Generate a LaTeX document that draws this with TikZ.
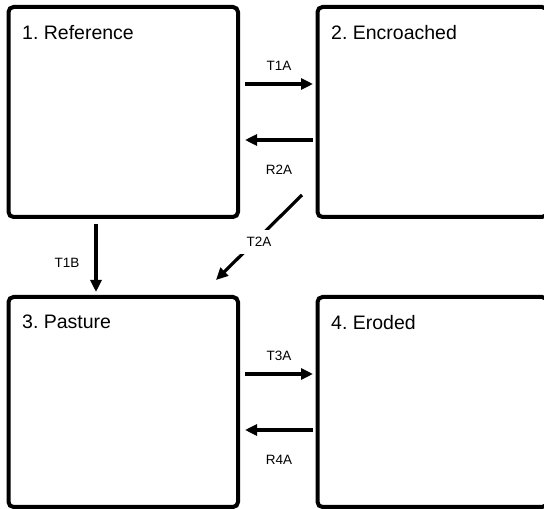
\documentclass[tikz,border=0pt]{standalone}
\usepackage{fontspec}
\setmainfont{Liberation Sans}
\usetikzlibrary{arrows.meta, positioning, calc}

\begin{document}
\begin{tikzpicture}[x=1pt, y=1pt,
    statebox/.style={draw, line width=4pt, rounded corners=5pt, outer sep=0pt,
      minimum width=229.5pt, minimum height=210pt},
    statetitle/.style={anchor=north west, inner sep=0pt, font=\fontsize{19.5}{23}\selectfont},
    trans/.style={line width=3.2pt, -{Triangle[length=12pt, width=11pt]}},
    translabel/.style={font=\fontsize{13.5}{15}\selectfont, inner sep=1pt}]
    \useasboundingbox (0,0) rectangle (544,509);
    % state boxes
    \foreach \name/\x/\y/\title in {ref/123.25/397/1.\ Reference, enc/432.25/397/2.\ Encroached,
      pas/123.25/107/3.\ Pasture, ero/432.25/107/4.\ Eroded} {
      \node[statebox] (\name) at (\x,\y) {};
      \node[statetitle] (\name-title) at ([xshift=13.5pt, yshift=-18pt]\name.north west) {\title};
    }
    % transitions
    \draw[trans] ([xshift=7pt, yshift=28pt]ref.east) -- node[midway, translabel, yshift=18pt] {T1A}
      ([xshift=-4.5pt, yshift=28pt]enc.west);
    \draw[trans] ([xshift=-4.5pt, yshift=-28pt]enc.west) -- node[midway, translabel, yshift=-30pt] {R2A}
      ([xshift=7pt, yshift=-28pt]ref.east);
    \draw[trans] ([xshift=7pt, yshift=28pt]pas.east) -- node[midway, translabel, yshift=18pt] {T3A}
      ([xshift=-4.5pt, yshift=28pt]ero.west);
    \draw[trans] ([xshift=-4.5pt, yshift=-28pt]ero.west) -- node[midway, translabel, yshift=-30pt] {R4A}
      ([xshift=7pt, yshift=-28pt]pas.east);
    \draw[trans] ([xshift=-27.25pt, yshift=-7pt]ref.south) -- node[midway, translabel, xshift=-29pt, yshift=-4.5pt] {T1B}
      ([xshift=-27.25pt, yshift=5pt]pas.north);
    \draw[trans] ([xshift=-15.5pt, yshift=22pt]enc.south west) -- node[midway, translabel, fill=white, inner sep=7pt, yshift=-4.5pt] {T2A}
      ([xshift=-22pt, yshift=17pt]pas.north east);
\end{tikzpicture}
\end{document}
